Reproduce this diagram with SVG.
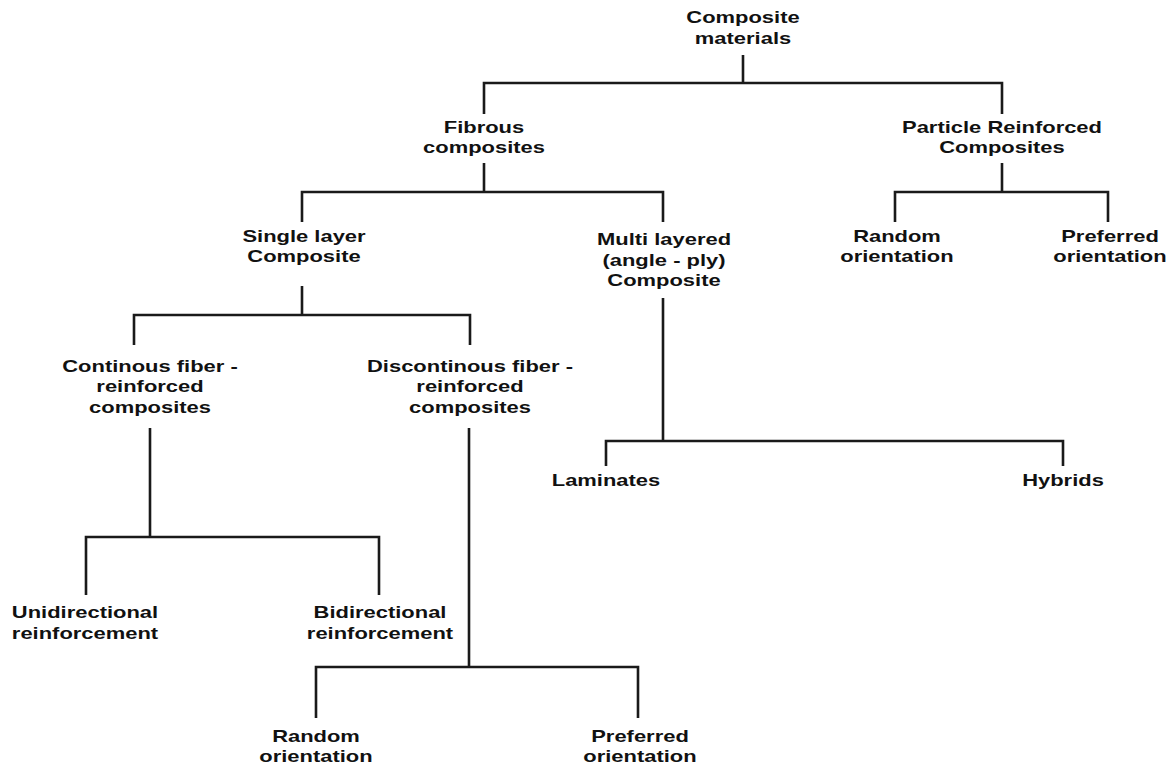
<svg xmlns="http://www.w3.org/2000/svg" width="1173" height="765" viewBox="0 0 1173 765">
<style>
text{font-family:"Liberation Sans",Arial,sans-serif;font-weight:bold;font-size:16.5px;fill:#111;text-anchor:middle}
.c{fill:none;stroke:#1a1a1a;stroke-width:2.6;stroke-linecap:butt;stroke-linejoin:miter}
</style>
<rect width="1173" height="765" fill="#fff"/>
<g id="connectors">
<path class="c" d="M743 55V83M484 114V83H1002V114"/>
<path class="c" d="M484 163V192M302 222V192H663V222"/>
<path class="c" d="M1002 163V192M895 222V192H1108V222"/>
<path class="c" d="M302 286V315M134 345V315H470V345"/>
<path class="c" d="M663 298V441M606 466V441H1063V466"/>
<path class="c" d="M150 428V537M86 595V537H379V595"/>
<path class="c" d="M469 428V667M316 718V667H638V718"/>
</g>
<g id="n-composite" transform="translate(743,0) scale(1.33,1)"><text><tspan x="0" y="23">Composite</tspan><tspan x="0" y="44">materials</tspan></text></g>
<g id="n-fibrous" transform="translate(484,0) scale(1.33,1)"><text><tspan x="0" y="133">Fibrous</tspan><tspan x="0" y="153">composites</tspan></text></g>
<g id="n-particle" transform="translate(1002,0) scale(1.33,1)"><text><tspan x="0" y="133">Particle Reinforced</tspan><tspan x="0" y="153">Composites</tspan></text></g>
<g id="n-single" transform="translate(304,0) scale(1.33,1)"><text><tspan x="0" y="242">Single layer</tspan><tspan x="0" y="262">Composite</tspan></text></g>
<g id="n-multi" transform="translate(664,0) scale(1.33,1)"><text><tspan x="0" y="245">Multi layered</tspan><tspan x="0" y="266">(angle - ply)</tspan><tspan x="0" y="286">Composite</tspan></text></g>
<g id="n-pr-random" transform="translate(897,0) scale(1.33,1)"><text><tspan x="0" y="242">Random</tspan><tspan x="0" y="262">orientation</tspan></text></g>
<g id="n-pr-preferred" transform="translate(1110,0) scale(1.33,1)"><text><tspan x="0" y="242">Preferred</tspan><tspan x="0" y="262">orientation</tspan></text></g>
<g id="n-continous" transform="translate(150,0) scale(1.33,1)"><text><tspan x="0" y="372">Continous fiber -</tspan><tspan x="0" y="392">reinforced</tspan><tspan x="0" y="413">composites</tspan></text></g>
<g id="n-discontinous" transform="translate(470,0) scale(1.33,1)"><text><tspan x="0" y="372">Discontinous fiber -</tspan><tspan x="0" y="392">reinforced</tspan><tspan x="0" y="413">composites</tspan></text></g>
<g id="n-laminates" transform="translate(606,0) scale(1.33,1)"><text><tspan x="0" y="486">Laminates</tspan></text></g>
<g id="n-hybrids" transform="translate(1063,0) scale(1.33,1)"><text><tspan x="0" y="486">Hybrids</tspan></text></g>
<g id="n-uni" transform="translate(85,0) scale(1.33,1)"><text><tspan x="0" y="618">Unidirectional</tspan><tspan x="0" y="639">reinforcement</tspan></text></g>
<g id="n-bi" transform="translate(380,0) scale(1.33,1)"><text><tspan x="0" y="618">Bidirectional</tspan><tspan x="0" y="639">reinforcement</tspan></text></g>
<g id="n-df-random" transform="translate(316,0) scale(1.33,1)"><text><tspan x="0" y="742">Random</tspan><tspan x="0" y="762">orientation</tspan></text></g>
<g id="n-df-preferred" transform="translate(640,0) scale(1.33,1)"><text><tspan x="0" y="742">Preferred</tspan><tspan x="0" y="762">orientation</tspan></text></g>
</svg>
